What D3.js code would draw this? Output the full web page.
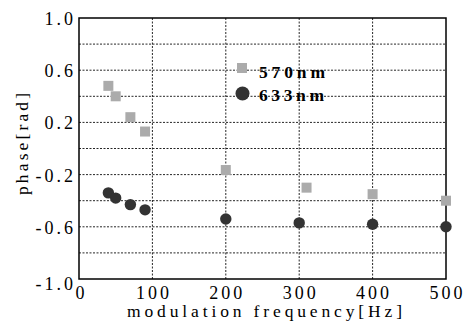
<!DOCTYPE html>
<html><head><meta charset="utf-8">
<script src="https://cdn.jsdelivr.net/npm/d3@7"></script>
<style>
body{margin:0;background:#fff;}
</style></head>
<body><svg id="c" width="469" height="325"></svg>
<script>
const freq570 = [40, 50, 70, 90, 200, 310, 400, 500];
const phase570 = [0.48, 0.40, 0.24, 0.13, -0.165, -0.30, -0.35, -0.40];
const freq633 = [40, 50, 70, 90, 200, 300, 400, 500];
const phase633 = [-0.34, -0.38, -0.43, -0.47, -0.54, -0.57, -0.58, -0.60];
const xTicks = [0, 100, 200, 300, 400, 500];
const yTicks = [1.0, 0.6, 0.2, -0.2, -0.6, -1.0];
const yGrid = [0.8, 0.6, 0.4, 0.2, 0, -0.2, -0.4, -0.6, -0.8];
const xGrid = [100, 200, 300, 400];
const seriesNames = ["570nm", "633nm"];

const FONT = "'Liberation Serif','Times New Roman','DejaVu Serif','Liberation Sans',Arial,sans-serif";
const svg = d3.select("#c");
const L = 79, R = 446, T = 18, B = 279;
const x = d3.scaleLinear().domain([0, 500]).range([L, R]);
const y = d3.scaleLinear().domain([-1, 1]).range([B, T]);
const ls = 3;

// grid
svg.append("g").selectAll("line").data(yGrid).join("line")
  .attr("x1", L).attr("x2", R).attr("y1", d => y(d)).attr("y2", d => y(d))
  .attr("stroke", "#000").attr("stroke-width", 1).attr("stroke-dasharray", "2,1.5").attr("opacity", 0.85);
svg.append("g").selectAll("line").data(xGrid).join("line")
  .attr("y1", T).attr("y2", B).attr("x1", d => x(d)).attr("x2", d => x(d))
  .attr("stroke", "#000").attr("stroke-width", 1).attr("stroke-dasharray", "2,1.5").attr("opacity", 0.85);

// frame
svg.append("rect").attr("x", L).attr("y", T).attr("width", R - L).attr("height", B - T)
  .attr("fill", "none").attr("stroke", "#000").attr("stroke-width", 1.5);

// y tick labels
svg.append("g").selectAll("text").data(yTicks).join("text")
  .attr("font-family", FONT)
  .attr("x", 73 + ls).attr("y", d => y(d) + (d === -1 ? 10.5 : 7))
  .attr("text-anchor", "end").attr("font-size", 18).attr("letter-spacing", ls)
  .text(d => d.toFixed(1));

// x tick labels
svg.append("g").selectAll("text").data(xTicks).join("text")
  .attr("font-family", FONT)
  .attr("x", d => x(d) + ls / 2 + (d === 0 ? 1 : 0)).attr("y", 298.5)
  .attr("text-anchor", "middle").attr("font-size", 18).attr("letter-spacing", ls)
  .text(d => d);

// axis titles
svg.append("text").attr("font-family", FONT).attr("x", 127).attr("y", 317)
  .attr("font-size", 17.5).attr("textLength", 275).attr("lengthAdjust", "spacing")
  .text("modulation frequency[Hz]");
svg.append("text").attr("font-family", FONT).attr("transform", "translate(28,195) rotate(-90)")
  .attr("font-size", 17.5).attr("textLength", 102).attr("lengthAdjust", "spacing")
  .text("phase[rad]");

// data
const d570 = freq570.map((f, i) => [f, phase570[i]]);
const d633 = freq633.map((f, i) => [f, phase633[i]]);
svg.append("g").selectAll("rect").data(d570).join("rect")
  .attr("x", d => x(d[0]) - 5).attr("y", d => y(d[1]) - 5).attr("width", 10).attr("height", 10)
  .attr("fill", "#ababab");
svg.append("g").selectAll("circle").data(d633).join("circle")
  .attr("cx", d => x(d[0])).attr("cy", d => y(d[1])).attr("r", 5.7)
  .attr("fill", "#333");

// legend
svg.append("rect").attr("x", 237).attr("y", 63).attr("width", 10).attr("height", 10).attr("fill", "#ababab");
svg.append("circle").attr("cx", 242.5).attr("cy", 93.5).attr("r", 7).attr("fill", "#333");
svg.append("text").attr("font-family", FONT).attr("x", 259).attr("y", 77.5).attr("font-size", 17.5).attr("font-weight", "bold")
  .attr("textLength", 66).attr("lengthAdjust", "spacing").text(seriesNames[0]);
svg.append("text").attr("font-family", FONT).attr("x", 259).attr("y", 100.5).attr("font-size", 17.5).attr("font-weight", "bold")
  .attr("textLength", 65).attr("lengthAdjust", "spacing").text(seriesNames[1]);
</script></body></html>
